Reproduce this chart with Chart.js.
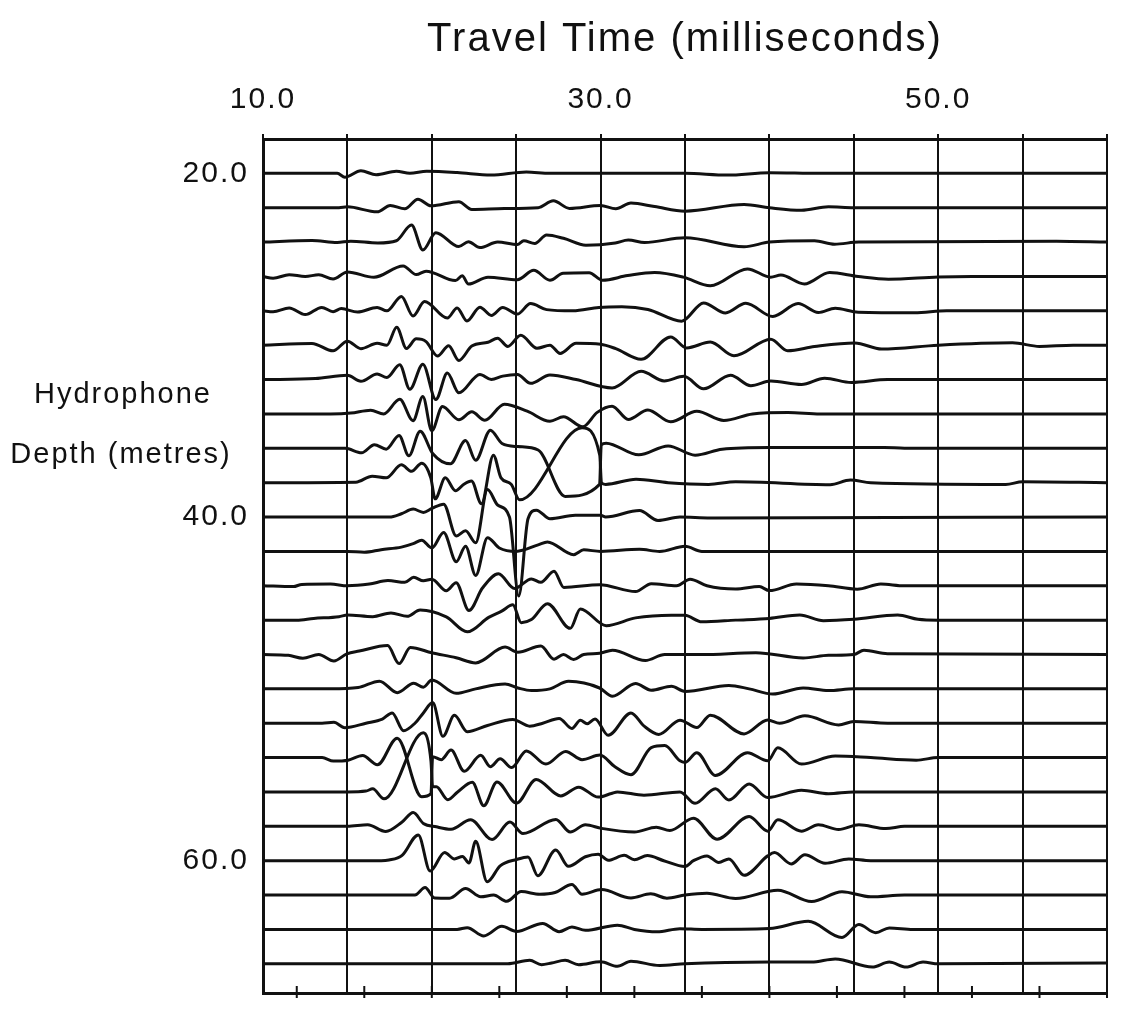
<!DOCTYPE html>
<html>
<head>
<meta charset="utf-8">
<title>Hydrophone traces</title>
<script src="https://cdn.jsdelivr.net/npm/chart.js@4.4.1/dist/chart.umd.min.js"></script>
<style>
  html, body { margin: 0; padding: 0; background: #fff; }
  #wrap { width: 1123px; height: 1025px; }
</style>
</head>
<body>
<div id="wrap"><canvas id="seismic" width="1123" height="1025"></canvas></div>
<script>
// axis values
const timeLabels = [10, 30, 50];
const gridTimes = [10, 15, 20, 25, 30, 35, 40, 45, 50, 55, 60];
const bottomTicks = [12, 16, 20, 24, 28, 32, 36, 40, 44, 48, 52, 56, 60];
const depthLabels = [20, 40, 60];
const depths = [20, 22, 24, 26, 28, 30, 32, 34, 36, 38, 40, 42, 44, 46, 48, 50, 52, 54, 56, 58, 60, 62, 64, 66];

// each trace: [time ms, amplitude in metres (up = positive)]
const trace20 = [[10,0],[14.4,0],[14.85,-0.22],[15.8,0.15],[16.7,-0.08],[17.9,0.12],[18.7,0],[19.7,0.12],[21.5,0.05],[23.5,-0.1],[25.6,0.08],[27,0],[35,0],[37.5,-0.1],[40,0.04],[43,0],[60,0]];
const trace22 = [[10,0],[14.5,0],[15,0.05],[16.76,-0.24],[17.54,0.13],[18.4,-0.06],[19.18,0.5],[19.95,0.11],[21.6,0.35],[22.37,-0.1],[24.3,-0.05],[26.3,0],[27.2,0.4],[28.16,-0.04],[30,0.13],[30.9,-0.06],[31.8,0.27],[33.2,0.07],[35,-0.2],[38.5,0.19],[40,0],[41.9,-0.15],[43.5,0.05],[45,0],[60,0]];
const trace24 = [[10,0],[12.9,0.1],[14.4,-0.02],[15.2,0.05],[16.8,-0.05],[17.9,0.08],[18.8,0.99],[19.47,-0.46],[20.24,0.55],[21.6,-0.26],[22.17,0.02],[22.85,-0.32],[23.9,0],[25.07,-0.14],[25.45,0.08],[26.1,-0.08],[26.8,0.41],[27.8,0.22],[29.13,-0.18],[30.87,-0.05],[31.64,0.12],[32.6,-0.02],[35,0.25],[38.5,-0.27],[40,0],[42.67,0.08],[43.86,-0.12],[45.3,0],[57,0.05],[60,0]];
const trace26 = [[10,0],[10.6,-0.1],[11.55,0.1],[12.5,0],[13.3,0.1],[14.15,-0.15],[15,0.26],[16.57,-0.05],[18.3,0.61],[19.08,0.11],[19.66,0.31],[21.4,-0.24],[21.8,0.04],[22.17,-0.44],[23.33,-0.04],[25.07,-0.19],[26.04,0.36],[27,-0.22],[27.78,0.19],[29.32,0.22],[30.1,-0.22],[31.6,0.05],[33.2,0.23],[34.9,-0.04],[36.5,-0.54],[38.7,0.44],[40.08,-0.04],[40.68,0.08],[42.07,-0.44],[43.57,0.23],[45.26,0],[47.05,-0.16],[50,-0.03],[52,0],[60,0]];
const trace28 = [[10,0],[10.6,-0.05],[11.55,0.17],[12.5,-0.22],[13.48,0.2],[14.15,-0.05],[14.64,0.13],[15.6,-0.07],[16.76,0.2],[17.34,0],[18.2,0.84],[18.89,-0.3],[19.57,0.54],[20.92,-0.42],[21.5,0.17],[22.08,-0.59],[22.85,0.21],[23.53,-0.27],[24.2,0.19],[25.07,-0.19],[25.85,0.42],[26.8,0.07],[28.36,0],[29.9,0.2],[31.26,0.24],[32.8,0.08],[34.8,-0.6],[36.1,0.46],[37.4,-0.12],[38.6,0.44],[40.2,-0.33],[41.7,0.42],[42.9,-0.1],[43.9,0.15],[45.26,-0.08],[48.6,-0.11],[50.5,0],[60,0]];
const trace30 = [[10,0],[12.9,0.1],[14.15,-0.33],[15,0.23],[15.8,-0.2],[16.76,0.11],[17.34,0],[17.92,1.04],[18.5,-0.19],[19.08,0.37],[19.66,0.21],[20.34,-0.63],[21,-0.03],[21.6,-0.89],[22.37,-0.05],[23.33,0.17],[23.9,0.41],[24.5,-0.07],[25.27,0.58],[26.23,-0.18],[27,0],[27.6,-0.48],[28.55,0.11],[30,0.06],[30.9,-0.2],[32.4,-0.82],[34.15,0.48],[35.1,-0.16],[36.5,0.18],[37.9,-0.62],[40.08,0.35],[41.08,-0.32],[42.67,-0.08],[45.06,0.13],[46.65,-0.22],[50,0],[54.4,0.14],[56,-0.07],[58,0],[60,0]];
const trace32 = [[10,0],[13.1,0.06],[15,0.25],[15.8,-0.1],[16.76,0.32],[17.34,0.12],[18.1,0.86],[18.7,-0.57],[19.47,0.89],[20.24,-1.16],[20.92,0.38],[21.6,-0.77],[22.85,0.3],[23.53,0],[24.2,0.2],[25.07,0.3],[25.85,-0.22],[27,0.27],[28.55,0],[30.68,-0.49],[32.4,0.48],[33.77,-0.08],[34.93,0.19],[36.1,-0.54],[37.7,0.25],[38.9,-0.36],[40.08,-0.09],[41.9,-0.29],[43.27,0.08],[44.86,-0.17],[47,0],[60,0]];
const trace34 = [[10,0],[14,0],[15.2,0.05],[16.38,0.22],[17.15,0],[18.1,0.85],[18.89,-0.39],[19.47,1.01],[20,-0.98],[20.63,0.43],[21.6,-0.34],[22.37,0.12],[23.14,-0.37],[24.3,0.56],[25.65,0.16],[27,-0.43],[27.8,-0.16],[28.94,-0.75],[29.8,0.09],[30.68,0.45],[31.64,-0.32],[32.8,0.23],[34.15,-0.46],[35.7,0.15],[37.3,-0.38],[39,0],[41.1,0.08],[43,0],[60,0]];
const trace36 = [[10,0],[14.87,0],[15.84,-0.26],[16.6,0.21],[17.3,-0.05],[18.06,0.75],[18.64,-0.44],[19.31,0.99],[20.05,-0.3],[21.1,-0.9],[22,0.45],[22.6,-0.7],[23.47,1.05],[24.16,0.28],[25.1,0.1],[26.3,-0.1],[27.9,-2.8],[29.94,-2.1],[30.04,0.2],[30.33,0.3],[32.26,-0.38],[34,0.14],[35.6,-0.4],[37.2,-0.05],[40,0.05],[46.8,0.05],[48,0],[60,0]];
const trace38 = [[10,0],[15.5,0.03],[16.47,0.38],[17.3,0.28],[18.2,1.04],[18.8,0.66],[19.4,1.13],[19.94,0.28],[20.2,-0.94],[20.8,0.28],[21.4,-0.47],[21.9,-0.09],[22.35,0.09],[22.94,-1.23],[23.65,1.6],[24.1,0.28],[24.7,-0.09],[25.2,-1.0],[28.9,3.2],[29.95,1.6],[30.05,0],[30.3,-0.1],[32.1,0.2],[34,0],[36.4,-0.1],[38,0.05],[43.6,-0.12],[44.8,0.15],[46,0],[54,-0.1],[55,0.05],[60,0]];
const trace40 = [[10,0],[17.5,0],[18.2,0.19],[18.9,0.46],[19.5,0.27],[20,0.5],[20.7,0.75],[21.45,-1.1],[22,-0.8],[22.6,-1.5],[23.3,1.6],[23.9,0.7],[24.6,0],[25.15,-4.6],[25.7,-0.1],[26.2,0.4],[27,-0.1],[28.5,0.1],[30,0.1],[30.3,0],[32.3,0.38],[33.4,-0.2],[34.7,0],[36.5,-0.05],[60,0]];
const trace42 = [[10,0],[15,0],[16,-0.05],[17,0.1],[18.2,0.25],[18.9,0.45],[19.4,0.65],[20,0.2],[20.7,1.1],[21.45,-0.6],[22,0.3],[22.6,-1.4],[23.3,0.8],[24,0.2],[25,0],[26.3,0.38],[26.85,0.55],[28.4,-0.19],[29,0.09],[30,0],[32.3,0.12],[33.5,0],[35,0.3],[36,0],[60,0]];
const trace44 = [[10,0],[11.8,-0.05],[12.3,0.08],[14,0.1],[15,0],[16.3,0.1],[17.4,0.3],[18.4,0.2],[18.93,0.49],[19.5,0.29],[20,0.38],[20.86,-0.29],[21.44,0.17],[22.2,-1.44],[23,-0.13],[23.95,0.7],[24.9,-0.16],[25.9,0.4],[26.46,0.2],[27.24,0.85],[27.82,-0.1],[29.94,0.06],[32.07,-0.34],[33,0.12],[34.5,0],[35.3,0.38],[36.3,0],[38,-0.19],[39.4,-0.05],[40,-0.28],[41.6,0.1],[43.5,0],[45.2,-0.2],[46.6,0.1],[48,0],[60,0]];
const trace46 = [[10,0],[12,0],[13,0.1],[14.5,0.2],[15,0.3],[16.5,0.2],[17.58,0.42],[18.54,0.22],[19.31,0.59],[20.86,0.19],[22.1,-0.68],[23.37,0.16],[24.14,0.52],[24.8,0.89],[25.3,-0.15],[25.9,0.03],[26.85,0.96],[28.2,-0.48],[28.8,0.65],[30.33,-0.32],[32.07,0.13],[34.2,0.29],[35,0.28],[36,-0.1],[38,0],[40,0.1],[41.8,0.3],[43.2,-0.03],[45,0.05],[47.6,0.3],[48.8,0.05],[50,0],[60,0]];
const trace48 = [[10,0],[11.5,-0.05],[12.36,-0.22],[13.3,0],[14.2,-0.38],[14.97,0.04],[15.7,0.2],[17.38,0.52],[18.06,-0.53],[18.73,0.41],[20,0.1],[21.44,-0.19],[22.6,-0.49],[24.34,0.43],[25.1,0.13],[26.46,0.49],[27.24,-0.27],[27.8,0],[28.4,-0.29],[29,0],[29.94,0.07],[30.7,0.25],[32.65,-0.35],[33.8,0],[36,0],[39.2,0.1],[42,-0.2],[43.5,-0.05],[45,0],[45.6,0.25],[47,0.05],[60,0]];
const trace50 = [[10,0],[14,0],[15.64,0.08],[16.9,0.45],[17.96,-0.22],[18.93,0.33],[19.5,0.1],[20,0.51],[21.44,-0.26],[22.6,0],[24.34,0.28],[25.1,0.05],[25.9,-0.1],[27,0],[28.1,0.44],[29.94,0.05],[30.7,-0.43],[32.07,0.31],[33,-0.08],[34.2,0.15],[35,-0.15],[37.6,0.2],[38.8,0],[40.2,-0.3],[42,0.05],[43.5,-0.1],[45,0],[60,0]];
const trace52 = [[10,0],[13.5,0],[14.2,0.05],[14.84,-0.26],[16.1,0],[17.07,0.24],[17.65,0.6],[18.33,-0.44],[19,0],[19.5,0.6],[20.05,1.2],[20.66,-0.76],[21.34,0.46],[22.1,-0.49],[23.3,-0.13],[24.8,0.22],[25.8,-0.17],[26.57,0],[27.54,0.28],[28.3,-0.3],[28.8,0.17],[29.2,-0.03],[29.67,0.25],[30.45,-0.7],[31.8,0.6],[32.58,-0.17],[33.45,-0.65],[34.7,0.18],[35.7,-0.25],[36.5,0.47],[38.5,-0.62],[39.9,0.19],[40.6,0],[42.1,0.43],[44.1,-0.1],[45,0.1],[47,0],[60,0]];
const trace54 = [[10,0],[13.5,0],[14.17,-0.2],[15.04,-0.15],[15.9,0.12],[16.78,-0.42],[17.95,1.13],[19.4,-2.28],[19.95,-2.1],[20.05,0.05],[20.56,-0.12],[21.14,0.44],[21.92,-0.8],[22.9,0.13],[23.47,-0.53],[24.05,-0.07],[24.73,-0.58],[25.6,0.39],[26.76,-0.38],[27.93,0.36],[28.9,-0.12],[29.96,0.15],[30.83,-0.52],[31.8,-1.0],[33,0.58],[33.8,0.7],[34.7,-0.19],[35,-0.28],[35.7,0.28],[36.8,-1.04],[38.7,0.28],[39.9,-0.19],[40.5,0.57],[41.9,-0.38],[43.9,0.09],[46,0],[48.7,-0.15],[50,0],[60,0]];
const trace56 = [[10,0],[15,0],[16.1,0.05],[16.5,0.18],[17.17,-0.4],[19.5,3.44],[19.95,1.8],[20.05,0.3],[20.27,0.31],[20.95,-0.45],[21.53,0],[22.4,0.56],[23.08,-0.8],[23.86,0.58],[25.02,-0.65],[26.18,0.73],[27.64,-0.23],[28.7,0.28],[29.86,-0.3],[30.64,-0.09],[31,0],[32.57,-0.19],[34.7,0],[35.6,-0.66],[36.8,0.19],[37.6,-0.47],[38.8,0.47],[39.9,-0.32],[41.9,0.1],[43.5,-0.1],[45,0],[60,0]];
const trace58 = [[10,0],[15,0],[16.2,0.09],[17.27,-0.3],[18.24,0.25],[18.9,0.8],[19.5,0.17],[20.27,-0.03],[21.14,-0.17],[22.3,0.38],[23.57,-0.77],[24.63,0.25],[25.4,-0.42],[27.35,0.4],[28.2,-0.33],[29.1,0.09],[30.05,-0.12],[32,-0.33],[33.3,-0.05],[34.1,-0.25],[35.5,0.47],[36.9,-0.75],[38.8,0.57],[39.9,-0.28],[40.5,0.38],[41.9,-0.28],[42.9,0.09],[44.1,-0.19],[45.3,0.09],[46.9,-0.13],[48,0],[60,0]];
const trace60 = [[10,0],[17,0],[17.46,0.04],[18.24,0.31],[19.2,1.5],[19.9,-0.6],[20.76,0.48],[21.34,0.1],[21.82,0.25],[22.2,-0.13],[22.6,1.13],[23.28,-1.23],[24.05,-0.3],[25.02,0.07],[25.7,0.22],[26.28,-0.88],[27.34,0.62],[28.1,-0.33],[29.1,0.23],[29.86,0.38],[30.45,0.03],[31.4,0.31],[32,0.06],[32.77,0.3],[33.74,0],[35,-0.34],[35.5,0],[36.3,0.28],[37,-0.1],[37.6,0.1],[38.5,-0.85],[39.9,0.28],[40.3,0.47],[41.3,-0.19],[42.1,0.34],[43.3,-0.15],[44.7,0.1],[46,0],[60,0]];
const trace62 = [[10,0],[19,0],[19.6,0.44],[20.17,-0.17],[21.05,-0.18],[22,0.38],[22.9,-0.1],[23.66,0],[24.44,-0.36],[25.3,0.2],[26.4,0.05],[27.3,0.15],[28.3,0.62],[28.9,0.05],[30.06,0.32],[31.8,-0.17],[32.97,0.07],[33.93,-0.18],[35,0],[36.3,0.1],[38,-0.2],[40.5,0.28],[42.5,-0.38],[44.3,0.19],[46,-0.1],[48,0],[60,0]];
const trace64 = [[10,0],[21.5,0],[22.1,0.1],[23.08,-0.38],[24.15,0.18],[25.02,-0.12],[26.57,0.35],[27.54,-0.13],[28.3,0.14],[29.1,-0.05],[31,0.25],[32,0],[33.35,-0.14],[34.7,0.04],[36,0],[40,0.05],[42.3,0.47],[44.3,-0.47],[45.3,0.28],[46.3,-0.19],[47.1,0.09],[48.5,0],[60,0]];
const trace66 = [[10,0],[24.5,0],[25.8,0.2],[26.5,-0.05],[27.1,0.05],[27.9,0.2],[28.7,-0.05],[30,0.12],[31,-0.15],[31.8,0.15],[33.5,-0.1],[35,0],[40,0.1],[42.5,0.1],[43.9,0.28],[46.1,-0.19],[47.1,0.1],[48.1,-0.19],[49.1,0.1],[50,0],[60,0.05]];

const traces = [trace20, trace22, trace24, trace26, trace28, trace30, trace32, trace34,
  trace36, trace38, trace40, trace42, trace44, trace46, trace48, trace50,
  trace52, trace54, trace56, trace58, trace60, trace62, trace64, trace66];

const ink = '#111';
const fontFamily = '"Liberation Sans", Arial, sans-serif';

// amplitude up means shallower depth on the reversed axis
const datasets = traces.map((tr, i) => ({
  label: depths[i].toFixed(1) + ' m',
  data: tr.map(p => ({ x: p[0], y: depths[i] - p[1] })),
  borderColor: ink,
  borderWidth: 3,
  pointRadius: 0,
  fill: false,
  cubicInterpolationMode: 'monotone'
}));

// the lettering on the original is widely spaced
const spacing = {
  id: 'spacing',
  beforeDraw(chart) { chart.ctx.letterSpacing = '2px'; }
};

// horizontal two-line label on the left, and ticks that cross the bottom edge
const sideText = {
  id: 'sideText',
  afterDraw(chart) {
    const ctx = chart.ctx;
    ctx.save();
    ctx.fillStyle = ink;
    ctx.font = '29px ' + fontFamily;
    ctx.letterSpacing = '2px';
    ctx.textAlign = 'center';
    ctx.textBaseline = 'alphabetic';
    ctx.fillText('Hydrophone', 123, 403);
    ctx.fillText('Depth (metres)', 121, 463);
    ctx.restore();
  }
};

const bottomCross = {
  id: 'bottomCross',
  afterDraw(chart) {
    const s = chart.scales.x2;
    const y = chart.chartArea.bottom;
    const ctx = chart.ctx;
    ctx.save();
    ctx.strokeStyle = ink;
    ctx.lineWidth = 2;
    bottomTicks.forEach(v => {
      const px = s.getPixelForValue(v);
      ctx.beginPath();
      ctx.moveTo(px, y - 7);
      ctx.lineTo(px, y + 5);
      ctx.stroke();
    });
    ctx.restore();
  }
};

new Chart(document.getElementById('seismic').getContext('2d'), {
  type: 'line',
  data: { datasets },
  options: {
    responsive: false,
    animation: false,
    layout: { padding: { left: 0, right: 10, top: 0, bottom: 0 } },
    plugins: {
      legend: { display: false },
      tooltip: { enabled: false },
      title: { display: false }
    },
    scales: {
      x: {
        type: 'linear',
        position: 'top',
        min: 10,
        max: 60,
        afterBuildTicks: s => { s.ticks = gridTimes.map(v => ({ value: v })); },
        afterFit: s => { s.height = 139; },
        ticks: {
          autoSkip: false,
          maxRotation: 0,
          padding: 16,
          color: ink,
          font: { family: fontFamily, size: 30 },
          callback: v => timeLabels.includes(v) ? v.toFixed(1) : ''
        },
        grid: { color: ink, lineWidth: 2, tickLength: 5 },
        border: { display: true, color: ink, width: 3 },
        title: {
          display: true,
          text: 'Travel Time (milliseconds)',
          color: ink,
          font: { family: fontFamily, size: 40 },
          padding: { top: 16, bottom: 0 }
        }
      },
      x2: {
        type: 'linear',
        position: 'bottom',
        min: 10,
        max: 60,
        afterBuildTicks: s => { s.ticks = bottomTicks.map(v => ({ value: v })); },
        afterFit: s => { s.height = 8; },
        ticks: { display: false },
        grid: { display: false },
        border: { display: true, color: ink, width: 3 }
      },
      y: {
        type: 'linear',
        reverse: true,
        min: 18,
        max: 67.7,
        afterBuildTicks: s => { s.ticks = depthLabels.map(v => ({ value: v })); },
        afterFit: s => { s.width = 263; },
        ticks: {
          padding: 14,
          color: ink,
          font: { family: fontFamily, size: 30 },
          callback: v => v.toFixed(1)
        },
        grid: { drawOnChartArea: false, drawTicks: false },
        border: { display: true, color: ink, width: 3 }
      }
    }
  },
  plugins: [spacing, sideText, bottomCross]
});
</script>
</body>
</html>
